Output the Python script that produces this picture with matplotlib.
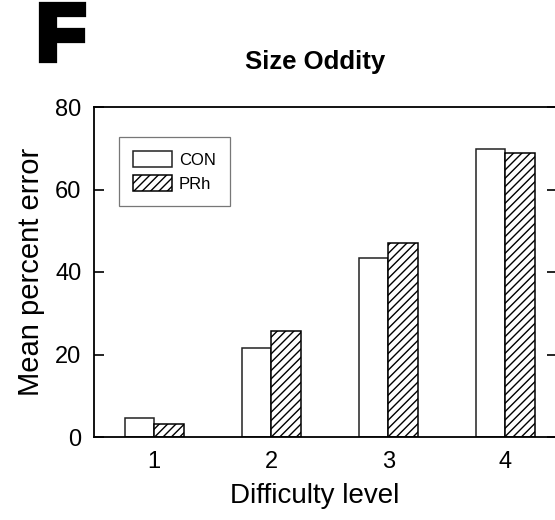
import numpy as np
import matplotlib.pyplot as plt
import matplotlib.patheffects as pe

plt.rcParams['font.family'] = ['Liberation Sans', 'DejaVu Sans']
plt.rcParams['hatch.linewidth'] = 1.0

# Data
levels = [1, 2, 3, 4]
con_error = [4.6, 21.6, 43.4, 69.8]
prh_error = [3.2, 25.7, 47.0, 68.8]
yticks = [0, 20, 40, 60, 80]

fig = plt.figure(figsize=(5.55, 5.2), dpi=100)
ax = fig.add_axes([94 / 555, 83 / 520, 463 / 555, 330 / 520])

x = np.array(levels)
w = 0.252
ax.bar(x - w / 2, con_error, w, color='white', edgecolor='#222222',
       linewidth=1.1, label='CON')
ax.bar(x + w / 2, prh_error, w, color='white', edgecolor='black',
       linewidth=1.1, hatch='////', label='PRh')

ax.set_xlim(0.487, 4.44)
ax.set_ylim(0, 80)
ax.set_xticks(levels)
ax.set_yticks(yticks)
ax.tick_params(axis='x', length=0, pad=10, labelsize=17)
ax.tick_params(axis='y', direction='in', length=7, width=1.2, pad=9,
               labelsize=17, right=True)

for side in ['left', 'bottom', 'top', 'right']:
    ax.spines[side].set_linewidth(1.3)

ax.set_xlabel('Difficulty level', fontsize=20)
ax.xaxis.set_label_coords(0.477, -0.139)
ax.set_ylabel('Mean percent error', fontsize=21)
ax.yaxis.set_label_coords(-0.106, 0.5)

leg = ax.legend(loc='upper left', bbox_to_anchor=(0.054, 0.909),
                borderaxespad=0, fontsize=12, frameon=True, fancybox=False,
                handlelength=2.3, handleheight=1.1, handletextpad=0.45,
                borderpad=0.85, labelspacing=0.45)
leg.get_frame().set_edgecolor('#555555')
leg.get_frame().set_linewidth(0.9)

fig.text(315 / 555, 1 - 62 / 520, 'Size Oddity', fontsize=18.5,
         fontweight='bold', ha='center', va='center')
fig.text(37 / 555, 1 - 60 / 520, 'F', fontsize=58, fontweight='heavy',
         ha='left', va='baseline',
         path_effects=[pe.withStroke(linewidth=4.5, foreground='black',
                                     joinstyle='miter')])

fig.savefig('out.png', dpi=100)
